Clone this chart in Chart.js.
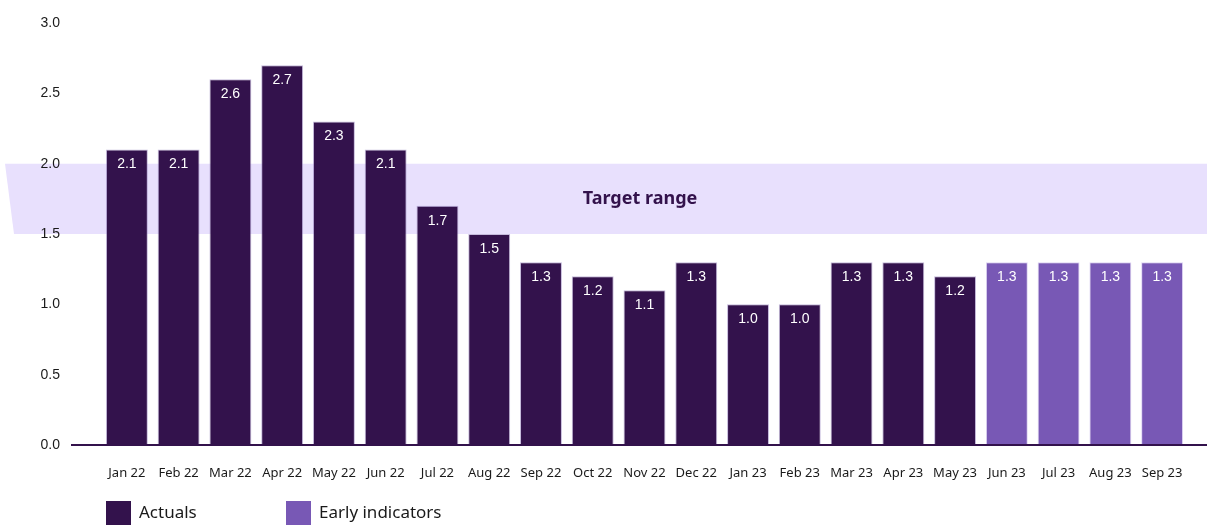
<!DOCTYPE html>
<html>
<head>
<meta charset="utf-8">
<script src="https://cdn.jsdelivr.net/npm/chart.js@4.4.1/dist/chart.umd.min.js"></script>
<style>
html,body{margin:0;padding:0;background:#fff;}
#wrap{width:1207px;height:525px;position:relative;}
</style>
</head>
<body>
<div id="wrap"><canvas id="c" width="1207" height="525"></canvas></div>
<script>
const categories = ["Jan 22","Feb 22","Mar 22","Apr 22","May 22","Jun 22","Jul 22","Aug 22","Sep 22","Oct 22","Nov 22","Dec 22","Jan 23","Feb 23","Mar 23","Apr 23","May 23","Jun 23","Jul 23","Aug 23","Sep 23"];
const actuals = [2.1,2.1,2.6,2.7,2.3,2.1,1.7,1.5,1.3,1.2,1.1,1.3,1.0,1.0,1.3,1.3,1.2,null,null,null,null];
const earlyIndicators = [null,null,null,null,null,null,null,null,null,null,null,null,null,null,null,null,null,1.3,1.3,1.3,1.3];
const targetRange = [1.5, 2.0];
const targetLabel = "Target range";
const yTicks = [0,0.5,1.0,1.5,2.0,2.5,3.0];

const DARK = '#33124c';
const LIGHT = '#7858b5';
const BAND = '#e8e0fd';

const bgPlugin = {
  id: 'bg',
  beforeDraw(chart) {
    const {ctx, scales:{y}} = chart;
    const yTop = y.getPixelForValue(targetRange[1]);
    const yBot = y.getPixelForValue(targetRange[0]);
    ctx.save();
    ctx.fillStyle = BAND;
    ctx.beginPath();
    ctx.moveTo(5, yTop);
    ctx.lineTo(chart.width, yTop);
    ctx.lineTo(chart.width, yBot);
    ctx.lineTo(14, yBot);
    ctx.closePath();
    ctx.fill();
    ctx.fillStyle = DARK;
    ctx.font = 'bold 18px "Noto Sans"';
    ctx.textAlign = 'center';
    ctx.textBaseline = 'middle';
    ctx.fillText(targetLabel, 640, (yTop + yBot) / 2);
    ctx.restore();
  },
  afterDatasetsDraw(chart) {
    const {ctx, scales:{y}} = chart;
    const y0 = y.getPixelForValue(0);
    ctx.save();
    ctx.strokeStyle = DARK;
    ctx.lineWidth = 2;
    ctx.beginPath();
    ctx.moveTo(71, y0);
    ctx.lineTo(chart.width, y0);
    ctx.stroke();
    ctx.fillStyle = '#ffffff';
    ctx.font = '14px "Liberation Sans", Arial, sans-serif';
    ctx.textAlign = 'center';
    ctx.textBaseline = 'middle';
    chart.data.datasets.forEach((ds, di) => {
      const meta = chart.getDatasetMeta(di);
      meta.data.forEach((bar, i) => {
        const v = ds.data[i];
        if (v === null || v === undefined) return;
        ctx.fillText(v.toFixed(1), bar.x, bar.y + 15);
      });
    });
    const items = chart.data.datasets.map(d => ({label: d.label, color: d.backgroundColor}));
    const xs = [106, 286];
    ctx.font = '17px "Noto Sans"';
    ctx.textAlign = 'left';
    items.forEach((it, i) => {
      ctx.fillStyle = it.color;
      ctx.fillRect(xs[i], 501, 25, 25);
      ctx.fillStyle = '#1a1a1a';
      ctx.fillText(it.label, xs[i] + 33, 513);
    });
    ctx.restore();
  }
};

new Chart(document.getElementById('c'), {
  type: 'bar',
  data: {
    labels: categories,
    datasets: [
      {label: 'Actuals', data: actuals, backgroundColor: DARK, borderColor: 'rgba(150,130,190,0.55)', borderWidth: 1, categoryPercentage: 1, barPercentage: 0.81, skipNull: true},
      {label: 'Early indicators', data: earlyIndicators, backgroundColor: LIGHT, borderColor: 'rgba(200,185,235,0.6)', borderWidth: 1, categoryPercentage: 1, barPercentage: 0.81, skipNull: true}
    ]
  },
  options: {
    responsive: false,
    animation: false,
    devicePixelRatio: 1,
    layout: {padding: {top: 23, right: 19, left: 0, bottom: 0}},
    plugins: {legend: {display: false}, tooltip: {enabled: false}},
    scales: {
      x: {
        stacked: true,
        grid: {display: false, drawTicks: false},
        border: {display: false},
        ticks: {color: '#1a1a1a', font: {family: '"Noto Sans"', size: 13}, padding: 20, maxRotation: 0, autoSkip: false},
        afterFit(s) { s.height = 80; s.paddingLeft = 0; s.paddingRight = 0; }
      },
      y: {
        min: 0, max: 3,
        afterBuildTicks(s) { s.ticks = yTicks.map(v => ({value: v})); },
        grid: {display: false, drawTicks: false},
        border: {display: false},
        ticks: {color: '#1a1a1a', font: {family: '"Liberation Sans"', size: 14}, padding: 41, callback: v => Number(v).toFixed(1)},
        afterFit(s) { s.width = 101; s.paddingTop = 0; s.paddingBottom = 0; }
      }
    }
  },
  plugins: [bgPlugin]
});
</script>
</body>
</html>
